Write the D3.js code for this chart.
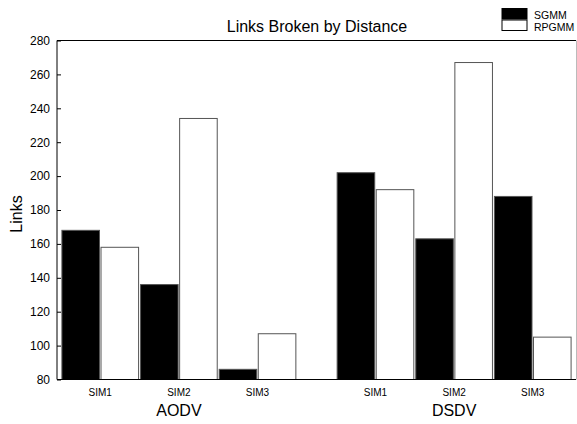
<!DOCTYPE html>
<html>
<head>
<meta charset="utf-8">
<script src="https://cdn.jsdelivr.net/npm/d3@7"></script>
<style>
  html, body { margin: 0; padding: 0; background: #fff; }
  svg { display: block; font-family: Arial, "Liberation Sans", sans-serif; }
</style>
</head>
<body>
<svg id="chart" width="577" height="424"></svg>
<script>
// Links broken by distance, per protocol and simulation run
const protocols = ["AODV", "DSDV"];
const sims = ["SIM1", "SIM2", "SIM3"];
const series = ["SGMM", "RPGMM"];
const sgmmValues = [168, 136, 86, 202, 163, 188];
const rpgmmValues = [158, 234, 107, 192, 267, 105];
const yTicks = [80, 100, 120, 140, 160, 180, 200, 220, 240, 260, 280];

const svg = d3.select("#chart");
const plotLeft = 57, plotRight = 576, plotTop = 40.5, plotBottom = 379.5;

// slot positions: three runs per protocol, half a slot of space between protocols
const slots = [];
protocols.forEach((p, gi) => sims.forEach((s, si) => {
  slots.push({ protocol: p, sim: s, idx: gi * sims.length + si,
               pos: 1 + gi * (sims.length + 0.5) + si });
}));

const x = d3.scaleLinear().domain([0.45, 7.05]).range([plotLeft, plotRight]);
const y = d3.scaleLinear().domain([80, 280]).range([plotBottom, plotTop]);
const slotW = x(1) - x(0);
const barW = slotW * 0.478;
const innerGap = 0.75;

const data = [sgmmValues, rpgmmValues];
const fills = ["#000", "#fff"];

// bars
series.forEach((name, k) => {
  svg.append("g").selectAll("rect")
    .data(slots)
    .join("rect")
    .attr("x", d => k === 0 ? x(d.pos) - innerGap - barW : x(d.pos) + innerGap)
    .attr("y", d => y(data[k][d.idx]))
    .attr("width", barW)
    .attr("height", d => y(80) - y(data[k][d.idx]))
    .attr("fill", fills[k])
    .attr("stroke", "#555")
    .attr("stroke-width", 1);
});

// plot frame: left, top, bottom
const frame = svg.append("g").attr("stroke", "#000").attr("stroke-width", 1).attr("fill", "none");
frame.append("path").attr("d", `M${plotRight},${plotTop}H${plotLeft}V${plotBottom}H${plotRight}`);
frame.append("line").attr("x1", plotRight + 0.5).attr("x2", plotRight + 0.5)
  .attr("y1", plotTop).attr("y2", plotBottom).attr("stroke", "#bbb");

// y axis: inward ticks and labels
const yAxis = d3.axisLeft(y).tickValues(yTicks).tickSizeInner(-4).tickSizeOuter(0).tickPadding(7);
const yg = svg.append("g").attr("transform", `translate(${plotLeft},0)`).call(yAxis);
yg.select(".domain").remove();
yg.selectAll(".tick line").attr("stroke", "#000");
yg.selectAll(".tick text").attr("font-size", 12).attr("fill", "#000")
  .attr("font-family", "Arial, 'Liberation Sans', sans-serif");

// run labels under each slot
svg.append("g").selectAll("text")
  .data(slots)
  .join("text")
  .attr("x", d => x(d.pos))
  .attr("y", 395.5)
  .attr("text-anchor", "middle")
  .attr("font-size", 10)
  .text(d => d.sim);

// protocol labels under the middle run
svg.append("g").selectAll("text")
  .data(protocols)
  .join("text")
  .attr("x", (p, gi) => x(1 + gi * (sims.length + 0.5) + 1))
  .attr("y", 416)
  .attr("text-anchor", "middle")
  .attr("font-size", 16)
  .text(d => d);

// title
svg.append("text")
  .attr("x", 317).attr("y", 31.5)
  .attr("text-anchor", "middle")
  .attr("font-size", 16)
  .text("Links Broken by Distance");

// y axis title
svg.append("text")
  .attr("transform", `translate(21.5,${(plotTop + plotBottom) / 2 + 4}) rotate(-90)`)
  .attr("text-anchor", "middle")
  .attr("font-size", 16)
  .text("Links");

// legend
const legend = svg.append("g");
series.forEach((name, k) => {
  legend.append("rect")
    .attr("x", 502).attr("y", 8.5 + k * 11.5)
    .attr("width", 25).attr("height", 10.5)
    .attr("fill", fills[k]).attr("stroke", "#000").attr("stroke-width", 1);
  legend.append("text")
    .attr("x", 534).attr("y", 19.3 + k * 11.3)
    .attr("font-size", 10.5)
    .text(name);
});
</script>
</body>
</html>
